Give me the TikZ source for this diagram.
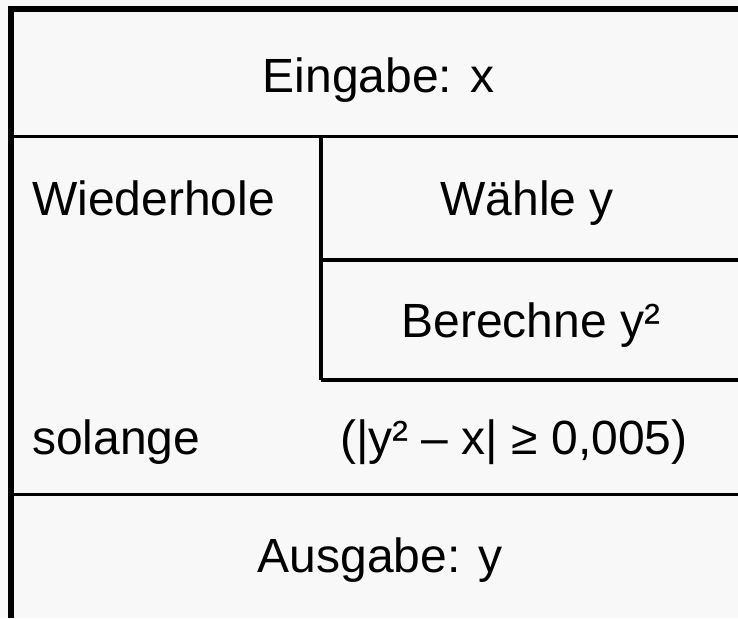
\documentclass[tikz,border=0pt]{standalone}
\usepackage{fontspec}
\setmainfont{Liberation Sans}
\definecolor{paper}{HTML}{F8F8F8}
\begin{document}
\begin{tikzpicture}[x=1pt, y=-1pt,
    frame/.style={line width=6pt, line join=miter},
    rule/.style={line width=3.5pt},
    cell/.style={font=\fontsize{48}{58}\selectfont, inner sep=0pt, anchor=base}]
  % sheet
  \fill[paper] (0,0) rectangle (738,618);
  \useasboundingbox (0,0) rectangle (738,618);

  % grid corners of the structogram
  \coordinate (tl) at (11,9);
  \coordinate (bl) at (11,618);
  \coordinate (tr) at (738,9);
  \coordinate (inL) at (11,136.5);   \coordinate (inR) at (738,136.5);
  \coordinate (loopT) at (321,136.5);
  \coordinate (bodyM) at (321,260);  \coordinate (bodyMR) at (738,260);
  \coordinate (bodyB) at (321,380);  \coordinate (bodyBR) at (738,380);
  \coordinate (outL) at (11,494.5);  \coordinate (outR) at (738,494.5);

  % inner separators
  \draw[rule] (inL) -- (inR);
  \draw[rule] (loopT) -- (bodyB);
  \draw[rule] (bodyM) -- (bodyMR);
  \draw[rule] (bodyB) -- (bodyBR);
  \draw[rule] (outL) -- (outR);
  % outer frame
  \draw[frame] (bl) -- (tl) -- (tr);

  % texts
  \node[cell] (eingabe) at (378.5,92) {Eingabe: x};
  \node[cell, anchor=base west] (wiederhole) at (32,215) {Wiederhole};
  \node[cell] (waehle) at (527,215) {Wähle y};
  \node[cell] (berechne) at (531,337.5) {Berechne y²};
  \node[cell, anchor=base west] (solange) at (32,454) {solange};
  \node[cell, anchor=base west] (bedingung) at (340,454) {(|y² – x| ≥ 0,005)};
  \node[cell] (ausgabe) at (380,572) {Ausgabe: y};
\end{tikzpicture}
\end{document}
